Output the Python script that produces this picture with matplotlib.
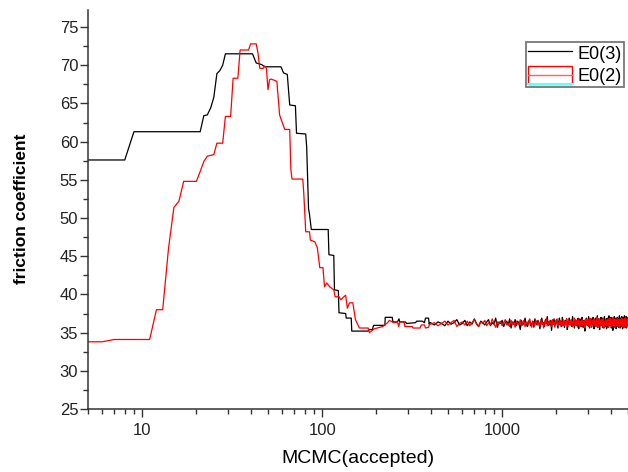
import numpy as np
import matplotlib.pyplot as plt
from matplotlib.patches import Rectangle
from matplotlib.lines import Line2D
from matplotlib.legend_handler import HandlerBase
from matplotlib.ticker import MultipleLocator, LogLocator, FuncFormatter, NullFormatter

plt.rcParams['font.family'] = ['Liberation Sans', 'DejaVu Sans']

# E0(3) - parte inicial (passo MCMC aceito, valor)
e03_x = [5, 8, 9, 21, 22, 23, 24, 25, 26, 27, 28, 29, 41, 43, 46, 48, 59, 61, 64, 66,
         71, 72, 81, 82, 84, 85, 87, 108, 109, 116, 117, 123, 124, 135, 136, 145, 146,
         180, 182, 190, 193, 223, 224, 245, 247, 262, 267, 270, 290, 295, 330, 335,
         360, 370, 375, 390, 393, 398]
e03_y = [57.6, 57.6, 61.3, 61.3, 63.4, 63.5, 64.4, 65.8, 68.9, 69.3, 70.0, 71.5, 71.5, 70.3,
         70.1, 69.8, 69.8, 69.0, 68.8, 64.8, 64.7, 61.1, 61.0, 59.3, 51.2, 50.5, 48.5, 48.5,
         45.2, 45.1, 40.6, 40.5, 37.6, 37.5, 36.9, 36.9, 35.2, 35.2, 35.4, 35.4, 35.95,
         35.95, 37.0, 37.0, 36.4, 36.4, 36.8, 36.4, 36.4, 36.2, 36.3, 36.5, 36.5, 36.3,
         36.9, 36.9, 36.1, 36.3]

# E0(2) - parte inicial
e02_x = [5, 6, 7, 11, 12, 13, 14, 15, 16, 17, 20, 21, 22, 23, 25, 26, 28, 29, 31, 32,
         34, 35, 39, 40, 43, 44, 45, 47, 48, 49, 50, 51, 52, 56, 58, 60, 62, 66, 67, 68,
         78, 79, 81, 85, 86, 91, 94, 97, 101, 103, 106, 110, 116, 118, 124, 127, 132,
         135, 138, 142, 148, 153, 161, 180, 183, 195, 217, 231, 236, 245, 250, 262, 266,
         270, 285, 288, 316, 320, 350, 355, 370, 375, 390, 395]
e02_y = [33.8, 33.8, 34.1, 34.1, 38.0, 38.0, 46.0, 51.4, 52.2, 54.8, 54.8, 56.1, 57.4,
         58.1, 58.3, 59.8, 59.8, 63.3, 63.3, 68.3, 68.3, 72.0, 72.0, 72.8, 72.8, 71.6,
         69.6, 69.6, 69.9, 69.6, 66.8, 68.1, 68.2, 67.9, 63.5, 62.5, 61.6, 61.6, 56.3,
         55.1, 55.1, 53.3, 48.2, 48.2, 47.1, 46.9, 46.1, 43.5, 43.5, 41.0, 41.5, 41.0,
         40.6, 39.7, 39.7, 39.3, 39.7, 39.9, 38.2, 38.9, 38.9, 36.7, 35.6, 35.6, 35.0,
         35.5, 35.8, 36.3, 36.6, 36.4, 36.3, 36.4, 35.8, 36.4, 36.4, 35.8, 35.8, 35.6,
         35.6, 36.0, 36.0, 35.6, 35.7, 36.1]

# cauda ruidosa a partir de 400 (um valor a cada 20 passos)
e03_tail = [36.3, 36.0, 36.4, 36.2, 35.9, 36.5, 36.1, 36.3, 36.7, 36.0,
            36.2, 36.6, 35.9, 36.4, 36.1, 36.8, 36.2, 35.8, 36.5, 36.3,
            36.0, 36.4, 36.7, 35.9, 36.3, 36.1, 36.9, 35.7, 36.4, 36.2,
            36.6, 35.8, 36.3, 36.5, 36.0, 36.8, 35.6, 36.4, 36.1, 36.7,
            35.9, 36.5, 36.2, 35.4, 36.6, 36.0, 36.3, 36.9, 36.1, 35.8,
            36.4, 36.7, 35.9, 36.2, 36.5, 35.7, 36.8, 36.3, 36.0, 36.6,
            36.2, 35.5, 36.4, 36.9, 36.1, 36.3, 35.8, 36.7, 36.2, 37.1,
            35.9, 36.4, 36.0, 36.6, 35.3, 36.5, 36.2, 36.8, 35.9, 36.3,
            36.7, 36.1, 35.6, 36.4, 36.9, 36.0, 36.5, 35.8, 37.0, 36.2,
            36.3, 35.7, 36.6, 36.1, 36.8, 35.4, 36.4, 36.2, 36.9, 36.0,
            36.5, 36.2, 35.8, 37.1, 36.0, 36.4, 35.6, 36.7, 36.3, 35.9,
            36.6, 36.1, 36.9, 35.5, 36.3, 36.8, 36.0, 36.5, 35.8, 37.0,
            36.2, 35.7, 36.6, 36.4, 35.2, 36.7, 36.1, 36.9, 36.0, 36.4,
            35.9, 37.1, 36.3, 35.6, 36.5, 36.2, 36.8, 35.8, 36.6, 36.1,
            37.0, 36.0, 35.5, 36.7, 36.3, 36.9, 35.9, 36.4, 36.1, 37.2,
            35.7, 36.5, 36.8, 36.0, 35.4, 36.6, 36.2, 37.0, 35.9, 36.4,
            36.9, 36.1, 35.6, 36.7, 36.3, 37.1, 35.8, 36.5, 36.0, 36.8,
            35.5, 36.4, 36.9, 36.2, 35.7, 36.6, 37.2, 36.0, 35.9, 36.7,
            36.3, 37.0, 35.6, 36.5, 36.1, 36.9, 35.3, 36.4, 36.8, 36.0,
            37.1, 35.8, 36.6, 36.2, 36.9, 35.5, 36.7, 36.3, 37.0, 35.9,
            36.4, 36.8, 35.7, 36.6, 37.2, 36.0, 35.6, 36.9, 36.2, 36.7,
            35.8, 37.1, 36.3, 35.5, 36.8, 36.1, 37.0, 35.9, 36.6, 37.2,
            36.0, 35.7, 36.9, 36.4, 37.1, 35.6, 36.7, 36.2, 36.8, 35.9,
            37.0, 36.3, 35.8, 36.9, 36.5, 37.3, 35.9, 36.6, 37.1, 36.4]

e02_tail = [36.1, 36.3, 35.9, 36.2, 36.5, 36.0, 36.3, 36.6, 35.8, 36.2,
            36.4, 36.0, 36.5, 35.9, 36.3, 36.7, 36.1, 35.8, 36.4, 36.2,
            36.6, 35.9, 36.3, 36.0, 36.8, 36.2, 35.7, 36.4, 36.1, 36.5,
            35.9, 36.3, 36.7, 36.0, 36.2, 35.8, 36.6, 36.1, 36.4, 35.7,
            36.5, 36.2, 36.0, 36.7, 35.9, 36.3, 36.6, 35.8, 36.2, 36.4,
            36.0, 36.8, 36.1, 35.7, 36.5, 36.3, 35.9, 36.6, 36.2, 36.0,
            36.4, 35.8, 36.7, 36.1, 36.3, 35.6, 36.5, 36.2, 36.9, 35.9,
            36.3, 36.0, 36.6, 36.2, 35.8, 36.7, 36.1, 36.4, 35.7, 36.5,
            36.2, 36.8, 35.9, 36.3, 36.1, 36.6, 35.8, 36.4, 36.0, 36.7,
            35.9, 36.3, 36.5, 36.0, 36.8, 36.2, 35.7, 36.6, 36.1, 36.4,
            36.0, 36.7, 36.2, 35.8, 36.5, 36.3, 36.9, 35.9, 36.4, 36.1,
            36.6, 35.7, 36.3, 36.8, 36.0, 36.4, 35.8, 36.5, 36.2, 36.7,
            35.9, 36.4, 36.1, 36.6, 35.6, 36.3, 36.8, 36.0, 36.5, 36.2,
            36.7, 35.8, 36.4, 36.1, 36.9, 36.0, 36.3, 35.7, 36.6, 36.2,
            36.5, 36.0, 36.8, 35.9, 36.3, 36.6, 35.8, 36.4, 37.0, 36.1,
            35.7, 36.5, 36.2, 36.8, 36.0, 36.4, 35.9, 36.7, 36.1, 36.3,
            36.6, 35.8, 36.9, 36.2, 35.6, 36.5, 36.3, 36.0, 36.7, 36.1,
            36.4, 35.9, 36.6, 36.2, 36.8, 35.7, 36.3, 36.5, 36.0, 36.9,
            36.1, 36.7, 35.8, 36.4, 36.2, 36.6, 35.9, 37.0, 36.3, 36.0,
            36.5, 35.7, 36.8, 36.1, 36.4, 35.9, 36.6, 36.2, 36.9, 35.8,
            36.3, 36.7, 36.0, 36.5, 35.7, 36.8, 36.2, 36.4, 35.9, 36.6,
            36.1, 36.9, 35.8, 36.3, 36.7, 36.0, 36.5, 35.6, 36.8, 36.2,
            36.4, 35.9, 37.0, 36.1, 36.6, 35.8, 36.5, 36.3, 36.9, 36.0,
            36.7, 35.7, 36.4, 36.8, 36.1, 36.6, 35.9, 37.0, 36.3, 36.5]

tail_start, tail_step = 400, 20

x3 = np.concatenate([e03_x, tail_start + tail_step * np.arange(len(e03_tail))])
y3 = np.concatenate([e03_y, e03_tail])
x2 = np.concatenate([e02_x, tail_start + tail_step * np.arange(len(e02_tail))])
y2 = np.concatenate([e02_y, e02_tail])


# legenda estilo Origin: caixa vermelha com linha no meio
class CaixaVermelha(HandlerBase):
    def create_artists(self, legend, orig_handle, xdescent, ydescent, width, height, fontsize, trans):
        x0, y0 = -xdescent, -ydescent
        caixa = Rectangle((x0, y0), width, height, fill=False, ec='red', lw=1.0, transform=trans)
        meio = Line2D([x0, x0 + width], [y0 + height / 2] * 2, color='#ff6060', lw=1.0, transform=trans)
        base = Line2D([x0, x0 + width], [y0, y0], color='#66ffff', lw=1.5, transform=trans)
        return [caixa, meio, base]


fig = plt.figure(figsize=(6.28, 4.72), dpi=100)
ax = fig.add_axes([88 / 628, 1 - 409 / 472, 540 / 628, 399.5 / 472])

l3, = ax.plot(x3, y3, color='black', lw=0.9)
l2, = ax.plot(x2, y2, color='red', lw=0.9)

ax.set_xscale('log')
ax.set_xlim(5, 5000)
ax.set_ylim(25, 77.3)

ax.xaxis.set_major_locator(LogLocator(base=10))
ax.xaxis.set_minor_locator(LogLocator(base=10, subs=np.arange(2, 10)))
ax.xaxis.set_major_formatter(FuncFormatter(lambda v, p: '%d' % v))
ax.xaxis.set_minor_formatter(NullFormatter())
ax.yaxis.set_major_locator(MultipleLocator(5))
ax.yaxis.set_minor_locator(MultipleLocator(2.5))

for lado in ['top', 'right']:
    ax.spines[lado].set_visible(False)
for lado in ['left', 'bottom']:
    ax.spines[lado].set_color('#333333')
    ax.spines[lado].set_linewidth(1.1)

ax.tick_params(axis='both', which='major', direction='out', length=6, width=1.0,
               color='#333333', labelsize=12, labelcolor='#222222')
ax.tick_params(axis='both', which='minor', direction='out', length=3.5, width=1.0, color='#333333')
ax.tick_params(axis='y', which='major', pad=1)
ax.tick_params(axis='x', which='major', pad=4)

ax.set_xlabel('MCMC(accepted)', fontsize=14, labelpad=9)
ax.set_ylabel('friction coefficient', fontsize=12.5, fontweight='bold', labelpad=22)

leg = ax.legend([l3, l2], ['E0(3)', 'E0(2)'], handler_map={l2: CaixaVermelha()},
                loc='upper right', bbox_to_anchor=(624 / 628, 1 - 42 / 472),
                bbox_transform=fig.transFigure, fontsize=13, frameon=True, fancybox=False,
                borderpad=0.1, borderaxespad=0, handlelength=2.4, handletextpad=0.35,
                handleheight=1.1, labelspacing=0.2)
leg.get_frame().set_edgecolor('#555555')
leg.get_frame().set_linewidth(1.3)

plt.savefig('out.png', dpi=100)
